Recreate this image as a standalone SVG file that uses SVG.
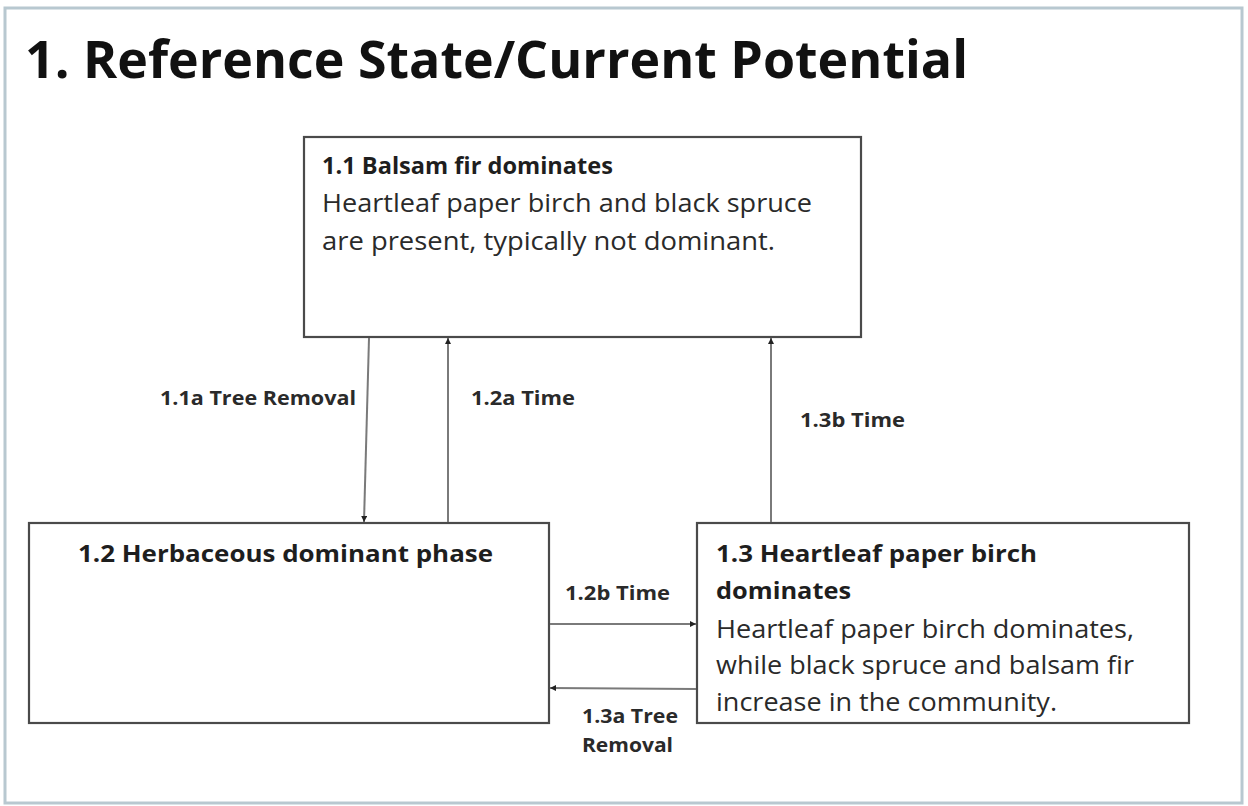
<svg xmlns="http://www.w3.org/2000/svg" width="1248" height="806" viewBox="0 0 1248 806">
<style>
text{font-family:"Open Sans","Liberation Sans",sans-serif;fill:#1e1e1e}
.b{font-weight:bold}
.t{font-size:52px;font-weight:bold;fill:#111}
.h{font-size:24px}
.p{font-size:26px;fill:#2a2a2a}
.l{font-size:19px;font-weight:bold;fill:#2a2a2a}
.box{fill:#fff;stroke:#4a4a4a;stroke-width:2.2}
.c{stroke:#7a7a7a;stroke-width:2;fill:none;marker-end:url(#ah)}
</style>
<defs>
<marker id="ah" viewBox="0 0 10 10" refX="10" refY="5" markerWidth="6" markerHeight="6" markerUnits="userSpaceOnUse" orient="auto">
<path d="M0,0L10,5L0,10z" fill="#222"/>
</marker>
</defs>
<rect x="0" y="0" width="1248" height="806" fill="#fff"/>
<rect x="5" y="8" width="1237" height="795" fill="#fff" stroke="#b8c8d0" stroke-width="3"/>
<text class="t" x="25" y="78" textLength="943" lengthAdjust="spacingAndGlyphs">1. Reference State/Current Potential</text>
<g id="n11">
<rect class="box" x="304" y="137" width="557" height="200"/>
<text class="h b" x="322" y="174" textLength="291" lengthAdjust="spacingAndGlyphs">1.1 Balsam fir dominates</text>
<text class="p" x="322" y="212" textLength="490" lengthAdjust="spacingAndGlyphs">Heartleaf paper birch and black spruce</text>
<text class="p" x="322" y="250" textLength="453" lengthAdjust="spacingAndGlyphs">are present, typically not dominant.</text>
</g>
<g id="n12">
<rect class="box" x="29" y="523" width="520" height="200"/>
<text class="h b" x="78" y="562" textLength="415" lengthAdjust="spacingAndGlyphs">1.2 Herbaceous dominant phase</text>
</g>
<g id="n13">
<rect class="box" x="697" y="523" width="492" height="200"/>
<text class="h b" x="716" y="562" textLength="321" lengthAdjust="spacingAndGlyphs">1.3 Heartleaf paper birch</text>
<text class="h b" x="716" y="599" textLength="135" lengthAdjust="spacingAndGlyphs">dominates</text>
<text class="p" x="716" y="638" textLength="418" lengthAdjust="spacingAndGlyphs">Heartleaf paper birch dominates,</text>
<text class="p" x="716" y="674" textLength="418" lengthAdjust="spacingAndGlyphs">while black spruce and balsam fir</text>
<text class="p" x="716" y="711" textLength="341" lengthAdjust="spacingAndGlyphs">increase in the community.</text>
</g>
<g id="connectors">
<path class="c" d="M369,338L364,522"/>
<path class="c" d="M448,522L448,338"/>
<path class="c" d="M771,522L771,338"/>
<path class="c" d="M550,624L696,624"/>
<path class="c" d="M696,689L550,688"/>
<text class="l" x="160" y="405" textLength="196" lengthAdjust="spacingAndGlyphs">1.1a Tree Removal</text>
<text class="l" x="471" y="405" textLength="104" lengthAdjust="spacingAndGlyphs">1.2a Time</text>
<text class="l" x="800" y="427" textLength="105" lengthAdjust="spacingAndGlyphs">1.3b Time</text>
<text class="l" x="565" y="600" textLength="105" lengthAdjust="spacingAndGlyphs">1.2b Time</text>
<text class="l" x="582" y="723" textLength="96" lengthAdjust="spacingAndGlyphs">1.3a Tree</text>
<text class="l" x="582" y="752" textLength="91" lengthAdjust="spacingAndGlyphs">Removal</text>
</g>
</svg>
